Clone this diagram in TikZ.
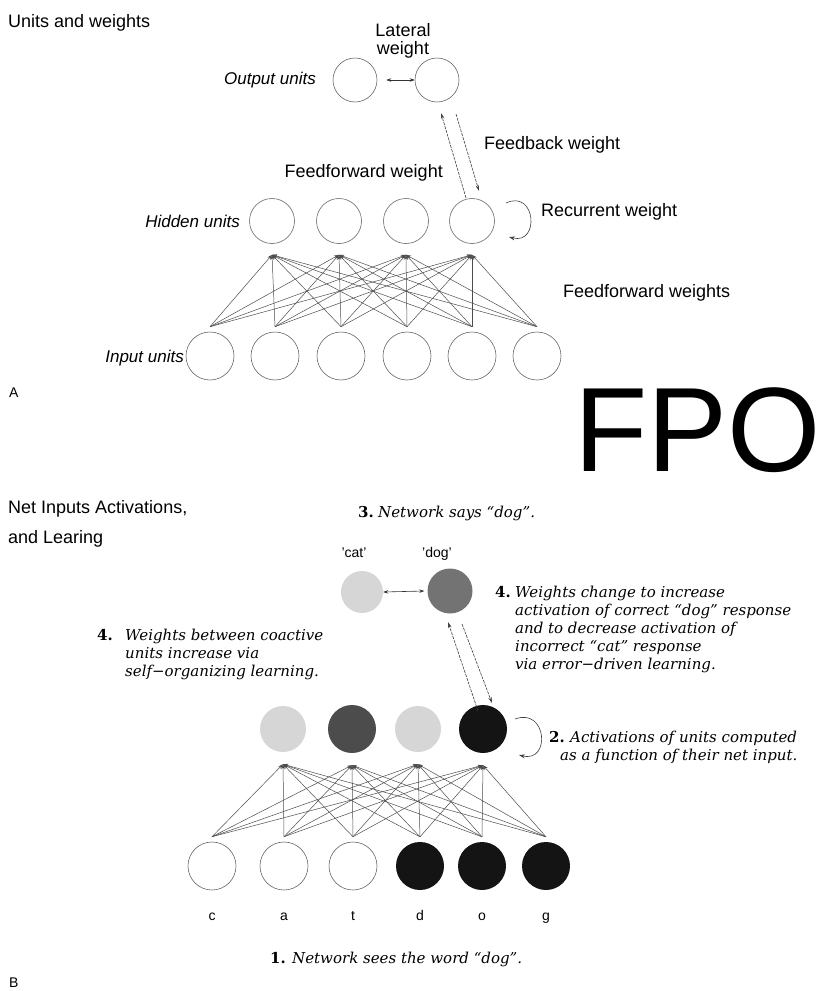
\documentclass[tikz,border=0pt]{standalone}
\usepackage{fontspec}
\setmainfont{Liberation Sans}
\newfontfamily\capserif{DejaVu Serif}
\usetikzlibrary{arrows.meta,calc}
\begin{document}
\begin{tikzpicture}[x=1pt,y=-1pt,
  lbl/.style={inner sep=0pt, font=\fontsize{18}{21}\selectfont},
  ilbl/.style={inner sep=0pt, font=\fontsize{17}{20}\selectfont\itshape},
  sml/.style={inner sep=0pt, font=\fontsize{14}{16}\selectfont},
  captxt/.style={inner sep=0pt, font=\fontsize{15}{18}\selectfont\capserif\itshape},
  num/.style={inner sep=0pt, font=\fontsize{15}{18}\selectfont\capserif\bfseries},
  unitA/.style={circle, inner sep=0pt, minimum size=44pt, draw=black!60, line width=0.6pt},
  unitH/.style={circle, inner sep=0pt, minimum size=45pt, draw=black!60, line width=0.6pt},
  unitI/.style={circle, inner sep=0pt, minimum size=48pt, draw=black!60, line width=0.6pt},
  light/.style={circle, inner sep=0pt, fill=black!16},
  mid/.style={circle, inner sep=0pt, fill=black!55},
  dark/.style={circle, inner sep=0pt, fill=black!70},
  full/.style={circle, inner sep=0pt, fill=black!92},
  ff/.style={-{Stealth[length=5pt,width=3.5pt]}, draw=black!70, line width=0.5pt},
  link/.style={-{Stealth[length=6pt,width=3.5pt]}, draw=black!75, line width=0.6pt, dash pattern=on 3pt off 1pt},
  lat/.style={{Stealth[length=5pt,width=3.5pt]}-{Stealth[length=5pt,width=3.5pt]}, draw=black!80, line width=0.6pt},
  rec/.style={-{Stealth[length=6pt,width=4pt]}, draw=black!75, line width=0.6pt}
]
\useasboundingbox (0,0) rectangle (831,991);

% ---------------- Part A ----------------
\node[lbl, anchor=base west] (titleA) at (8,27) {Units and weights};
\node[lbl, anchor=base] (latA1) at (403,36) {Lateral};
\node[lbl, anchor=base] (latA2) at (403,54) {weight};

\node[unitA] (o1) at (355,80) {};
\node[unitA] (o2) at (437,80) {};
\node[ilbl, anchor=base east] (outl) at (316,84) {Output units};

\node[unitH] (h1) at (272,221) {};
\node[unitH] (h2) at (339,221) {};
\node[unitH] (h3) at (406,221) {};
\node[unitH] (h4) at (472,221) {};
\node[ilbl, anchor=base east] (hidl) at (240,227) {Hidden units};

\node[unitI] (i1) at (210,356) {};
\node[unitI] (i2) at (275,356) {};
\node[unitI] (i3) at (341,356) {};
\node[unitI] (i4) at (407,356) {};
\node[unitI] (i5) at (472,356) {};
\node[unitI] (i6) at (537,356) {};
\node[ilbl, anchor=base east] (inl) at (184,362) {Input units};

\node[lbl, anchor=base west] (fbl) at (484,149) {Feedback weight};
\node[lbl, anchor=base east] (ffl) at (443,177) {Feedforward weight};
\node[lbl, anchor=base west] (recl) at (541,216) {Recurrent weight};
\node[lbl, anchor=base west] (ffwl) at (563,297) {Feedforward weights};
\node[sml, anchor=base west] (labA) at (9,397) {A};

\draw[lat] ($(o1.east)+(9,0)$) -- (o2.west);
\draw[link] ($(h4)+(-6,-23)$) -- ($(o2)+(4,33)$);
\draw[link] ($(o2)+(19,34)$) -- ($(h4)+(7,-30)$);
\draw[rec] ($(h4)+(34,-18)$) .. controls ($(h4)+(64,-32)$) and ($(h4)+(68,24)$) .. ($(h4)+(37,16)$);

\foreach \a in {1,...,6}{
  \foreach \b in {1,...,4}{
    \draw[ff] ($(i\a.north)+(0,-5)$) -- ($(h\b.south)+(0,11)$);
  }
}

\node[inner sep=0pt, anchor=base west, font=\fontsize{120}{120}\selectfont] (fpo) at (574,471) {FPO\kern-8pt};

% ---------------- Part B ----------------
\node[lbl, anchor=base west] (titleB1) at (8,513) {Net Inputs Activations,};
\node[lbl, anchor=base west] (titleB2) at (8,543) {and Learing};

\node[num, anchor=base west] (n3) at (358,517) {3.};
\node[captxt, anchor=base west] (t3) at (378,517) {Network says “dog”.};

\node[sml, anchor=base] (catl) at (354,557) {'cat'};
\node[sml, anchor=base] (dogl) at (437,557) {'dog'};
\node[light, minimum size=42pt] (oc) at (362,592) {};
\node[mid, minimum size=45pt] (od) at (450,591) {};
\draw[lat] (oc.east) -- ($(od.west)+(-3,0)$);

\node[num, anchor=base west] (n4r) at (495,597) {4.};
\node[captxt, anchor=base west] (r1) at (515,597) {Weights change to increase};
\node[captxt, anchor=base west] (r2) at (515,615) {activation of correct “dog” response};
\node[captxt, anchor=base west] (r3) at (515,633) {and to decrease activation of};
\node[captxt, anchor=base west] (r4) at (515,651) {incorrect “cat” response};
\node[captxt, anchor=base west] (r5) at (515,669) {via error−driven learning.};

\node[num, anchor=base west] (n4l) at (97,640) {4.};
\node[captxt, anchor=base west] (l1) at (125,640) {Weights between coactive};
\node[captxt, anchor=base west] (l2) at (125,658) {units increase via};
\node[captxt, anchor=base west] (l3) at (125,676) {self−organizing learning.};

\node[light, minimum size=46pt] (g1) at (283,729) {};
\node[dark, minimum size=48pt] (g2) at (352,729) {};
\node[light, minimum size=46pt] (g3) at (418,729) {};
\node[full, minimum size=48pt] (g4) at (483,729) {};

\node[num, anchor=base west] (n2) at (549,742) {2.};
\node[captxt, anchor=base west] (a1) at (570,742) {Activations of units computed};
\node[captxt, anchor=base west] (a2) at (560,760) {as a function of their net input.};

\draw[link] ($(g4)+(-5,-18)$) -- ($(od)+(-2,31)$);
\draw[link] ($(od)+(12,33)$) -- ($(g4)+(9,-26)$);
\draw[rec] ($(g4)+(32,-10)$) .. controls ($(g4)+(64,-22)$) and ($(g4)+(68,34)$) .. ($(g4)+(36,26)$);

\node[unitI] (j1) at (212,866) {};
\node[unitI] (j2) at (284,866) {};
\node[unitI] (j3) at (353,866) {};
\node[full, minimum size=48pt] (j4) at (420,866) {};
\node[full, minimum size=48pt] (j5) at (482,866) {};
\node[full, minimum size=48pt] (j6) at (546,866) {};

\foreach \a in {1,...,6}{
  \foreach \b in {1,...,4}{
    \draw[ff] ($(j\a.north)+(0,-5)$) -- ($(g\b.south)+(0,12)$);
  }
}

\node[sml, anchor=base] (lc) at (212,920) {c};
\node[sml, anchor=base] (la) at (284,920) {a};
\node[sml, anchor=base] (lt) at (353,920) {t};
\node[sml, anchor=base] (ld) at (420,920) {d};
\node[sml, anchor=base] (lo) at (482,920) {o};
\node[sml, anchor=base] (lg) at (546,920) {g};

\node[num, anchor=base west] (n1) at (270,963) {1.};
\node[captxt, anchor=base west] (t1) at (292,963) {Network sees the word “dog”.};
\node[sml, anchor=base west] (labB) at (9,987) {B};
\end{tikzpicture}
\end{document}
